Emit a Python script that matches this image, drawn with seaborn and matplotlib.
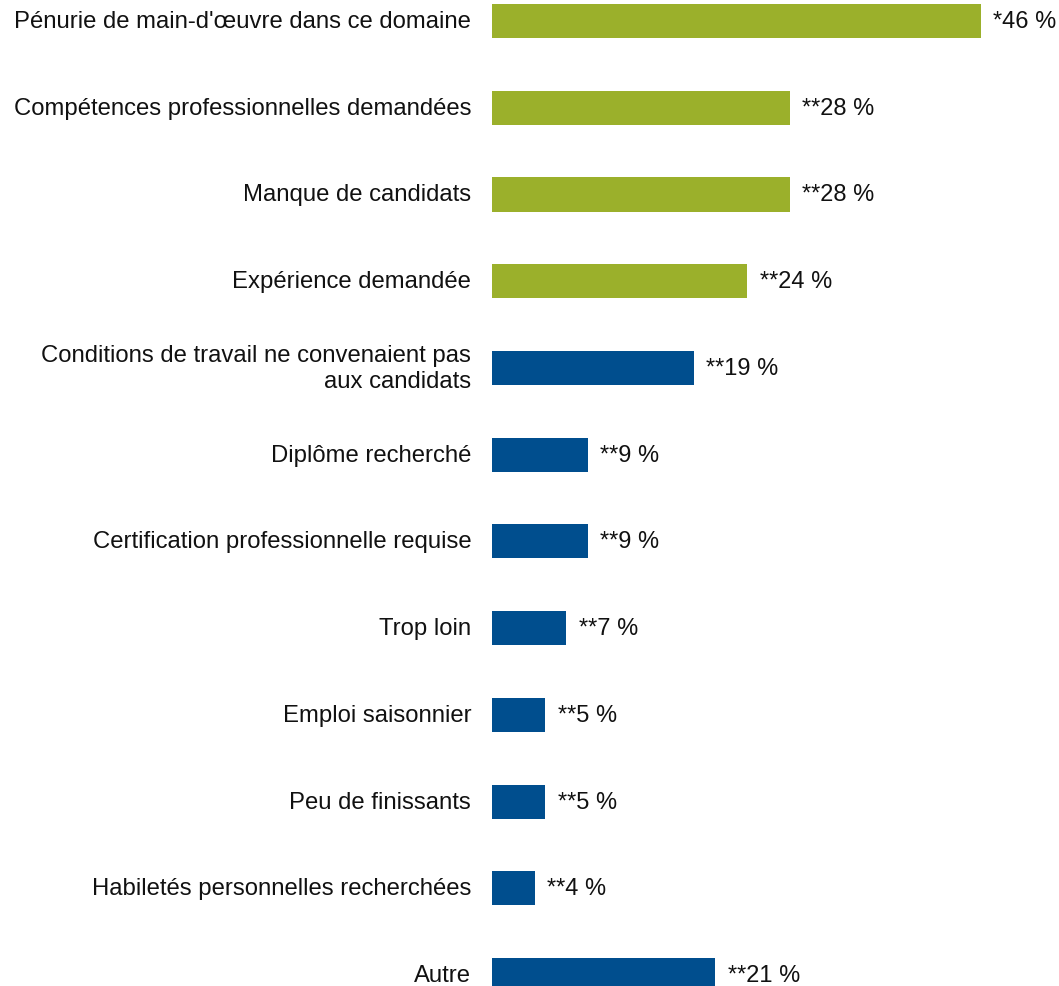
import pandas as pd
import matplotlib.pyplot as plt
import seaborn as sns

# données du graphique
categories = [
    "Pénurie de main-d'œuvre dans ce domaine",
    "Compétences professionnelles demandées",
    "Manque de candidats",
    "Expérience demandée",
    "Conditions de travail ne convenaient pas\naux candidats",
    "Diplôme recherché",
    "Certification professionnelle requise",
    "Trop loin",
    "Emploi saisonnier",
    "Peu de finissants",
    "Habiletés personnelles recherchées",
    "Autre",
]
values = [46, 28, 28, 24, 19, 9, 9, 7, 5, 5, 4, 21]
labels = ["*46 %", "**28 %", "**28 %", "**24 %", "**19 %", "**9 %",
          "**9 %", "**7 %", "**5 %", "**5 %", "**4 %", "**21 %"]
groups = ["a"] * 4 + ["b"] * 8

df = pd.DataFrame({'cat': categories, 'val': values, 'grp': groups})

sns.set_style('white')
plt.rcParams['font.family'] = ['Liberation Sans', 'DejaVu Sans']

fig = plt.figure(figsize=(10.59, 9.87), dpi=100)
ax = fig.add_axes([492 / 1059, 0, 1 - 492 / 1059, 1])

sns.barplot(data=df, y='cat', x='val', hue='grp', orient='h',
            palette={'a': '#9BB02B', 'b': '#004E8E'}, saturation=1,
            width=0.392, dodge=False, legend=False, linewidth=0, ax=ax)

ax.set_xlim(0, (1059 - 492) / 10.63)
ax.set_ylim(11.124, -0.2536)

for i, (v, lab) in enumerate(zip(values, labels)):
    ax.annotate(lab, (v, i), xytext=(9, 0), textcoords='offset points',
                va='center', ha='left', fontsize=17, color='#111111')

ax.set_xlabel('')
ax.set_ylabel('')
ax.set_xticks([])
ax.tick_params(axis='y', length=0, pad=15, labelsize=17.2, labelcolor='#111111')
for lab in ax.get_yticklabels():
    lab.set_horizontalalignment('right')
    lab.set_verticalalignment('center')
sns.despine(ax=ax, left=True, bottom=True)

fig.savefig('out.png', dpi=100)
